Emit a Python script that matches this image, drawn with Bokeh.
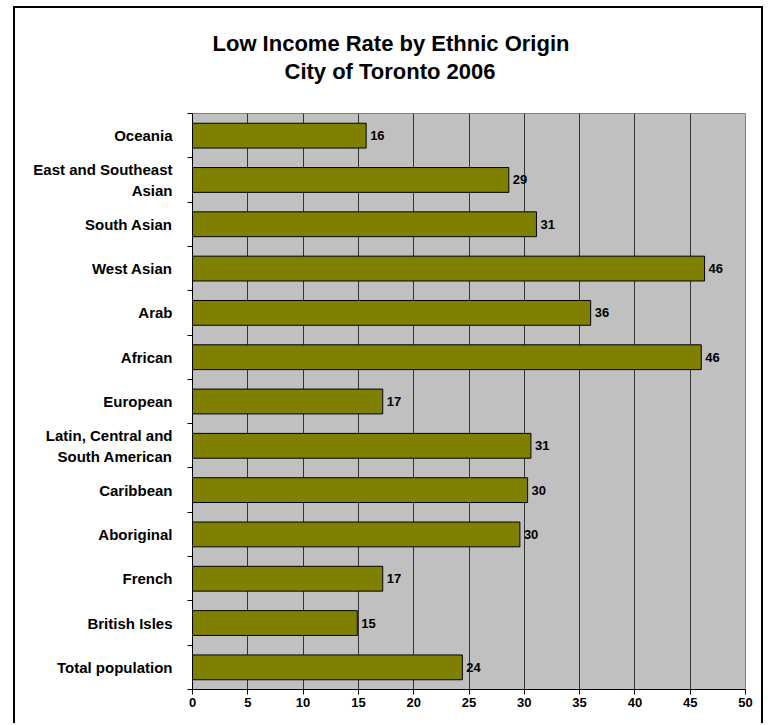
from bokeh.plotting import figure
from bokeh.models import FixedTicker, ColumnDataSource, Range1d, Title
from bokeh.core.properties import value
from bokeh.embed import file_html
from bokeh.resources import INLINE

# Data (bottom to top)
categories = ["Total population", "British Isles", "French", "Aboriginal", "Caribbean",
              "Latin, Central and\nSouth American", "European", "African", "Arab",
              "West Asian", "South Asian", "East and Southeast\nAsian", "Oceania"]
values = [24.4, 14.9, 17.2, 29.6, 30.3, 30.6, 17.2, 46.0, 36.0, 46.3, 31.1, 28.6, 15.7]
value_labels = ["24", "15", "17", "30", "30", "31", "17", "46", "36", "46", "31", "29", "16"]
x_ticks = [0, 5, 10, 15, 20, 25, 30, 35, 40, 45, 50]
title_lines = ["Low Income Rate by Ethnic Origin", "City of Toronto 2006"]

FONT = "Liberation Sans"
n = len(categories)
ypos = [i + 0.5 for i in range(n)]

src = ColumnDataSource(dict(y=ypos, v=values, lab=value_labels))

p = figure(width=750, height=717, output_backend="svg", toolbar_location=None,
           x_range=Range1d(0, 50), y_range=Range1d(0, n))
p.margin = (6, 0, 0, 13)
p.styles = {"border-top": "2px solid black", "border-left": "2px solid black",
            "border-right": "2px solid black"}
p.min_border_left = 177
p.min_border_right = 20
p.min_border_top = 105
p.min_border_bottom = 36
p.background_fill_color = "#C0C0C0"
p.border_fill_color = "white"
p.outline_line_color = "#808080"
p.outline_line_width = 1

p.hbar(y="y", left=0, right="v", height=0.56, source=src,
       fill_color="#808000", line_color="black", line_width=1)
p.text(x="v", y="y", text="lab", source=src, x_offset=4,
       text_align="left", text_baseline="middle",
       text_font=value(FONT), text_font_style="bold", text_font_size="13px",
       text_color="black")

# grid
p.xgrid.ticker = FixedTicker(ticks=x_ticks)
p.xgrid.grid_line_color = "#333333"
p.xgrid.grid_line_width = 1
p.ygrid.visible = False

# x axis
xa = p.xaxis[0]
xa.ticker = FixedTicker(ticks=x_ticks)
xa.axis_line_color = "black"
xa.major_tick_line_color = "black"
xa.major_tick_out = 5
xa.major_tick_in = 0
xa.minor_tick_line_color = None
xa.major_label_standoff = 3
xa.major_label_text_font = FONT
xa.major_label_text_font_style = "bold"
xa.major_label_text_font_size = "13px"
xa.major_label_text_color = "black"

# y axis
ya = p.yaxis[0]
ya.ticker = FixedTicker(ticks=ypos, minor_ticks=list(range(n + 1)))
ya.major_label_overrides = {y: c for y, c in zip(ypos, categories)}
ya.axis_line_color = "black"
ya.major_tick_out = 0
ya.major_tick_in = 0
ya.minor_tick_out = 5
ya.minor_tick_in = 0
ya.minor_tick_line_color = "black"
ya.major_label_standoff = 15
ya.major_label_text_font = FONT
ya.major_label_text_font_style = "bold"
ya.major_label_text_font_size = "15px"
ya.major_label_text_color = "black"
ya.major_label_text_align = "right"

# title (first added sits closest to the plot); a blank spacer keeps the gap
p.title = None
p.add_layout(Title(text=" ", standoff=17, text_font_size="10px"), "above")
p.add_layout(Title(text=title_lines[1], align="left", offset=92, standoff=0,
                   text_font=FONT, text_font_style="bold", text_font_size="22px",
                   text_color="black"), "above")
p.add_layout(Title(text=title_lines[0], align="left", offset=20, standoff=2,
                   text_font=FONT, text_font_style="bold", text_font_size="22px",
                   text_color="black"), "above")

open("out.html", "w").write(file_html(p, INLINE))
